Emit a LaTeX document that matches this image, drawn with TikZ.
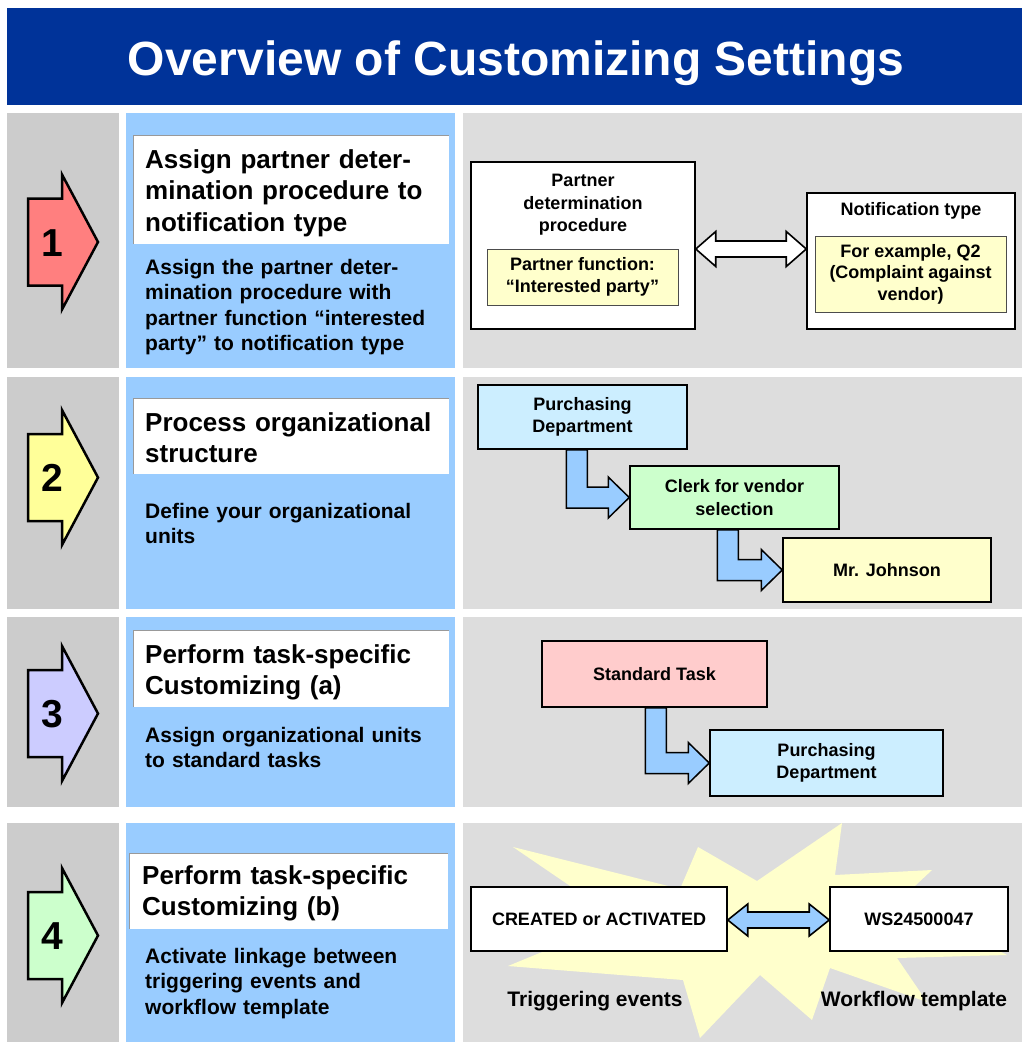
\documentclass[tikz,border=0pt]{standalone}
\usepackage{fontspec}
\setmainfont{Liberation Sans}
\usetikzlibrary{calc}
\definecolor{titleblue}{HTML}{003399}
\definecolor{numgray}{HTML}{CCCCCC}
\definecolor{colblue}{HTML}{99CCFF}
\definecolor{panelgray}{HTML}{DDDDDD}
\definecolor{aone}{HTML}{FF7F7F}
\definecolor{atwo}{HTML}{FFFF99}
\definecolor{athree}{HTML}{CCCCFF}
\definecolor{afour}{HTML}{CCFFCC}
\definecolor{ltyellow}{HTML}{FFFFCC}
\definecolor{ltblue}{HTML}{CCEEFF}
\definecolor{ltgreen}{HTML}{CCFFCC}
\definecolor{ltred}{HTML}{FFCCCC}
\definecolor{arrowblue}{HTML}{99CCFF}
\definecolor{edgegray}{HTML}{999999}

\newcommand{\numarrow}[4]{% center y, fill, name, number
  \draw[line width=2.5pt, line join=miter, fill=#2]
    (28,{#1-43.5}) -- (62,{#1-43.5}) -- (62,{#1-67.5}) -- (98,#1)
    -- (62,{#1+67.5}) -- (62,{#1+43.5}) -- (28,{#1+43.5}) -- cycle;
  \node[numtxt] (#3) at (52,{#1+14}) {#4};}
\newcommand{\bentarr}[3]{% from, to, shaft offset
  \draw[barrow] let \p1=(#1.south west), \p2=(#2.west) in
    (\x1+#3,\y1) -- (\x1+#3+21,\y1) -- (\x1+#3+21,\y2+10.5)
    -- (\x2-21,\y2+10.5) -- (\x2-21,\y2+20.5) -- (\x2,\y2)
    -- (\x2-21,\y2-20.5) -- (\x2-21,\y2-10.5) -- (\x1+#3,\y2-10.5) -- cycle;}
\newcommand{\dblarr}[6]{% A, B, y shift, shaft half, head half, fill
  \draw[line width=1.6pt, line join=miter, fill=#6]
    let \p1=($(#1.east)+(0,#3)$), \p2=(#2.west) in
    (\x1,\y1) -- (\x1+20,\y1+#5) -- (\x1+20,\y1+#4) -- (\x2-20,\y1+#4)
    -- (\x2-20,\y1+#5) -- (\x2,\y1) -- (\x2-20,\y1-#5) -- (\x2-20,\y1-#4)
    -- (\x1+20,\y1-#4) -- (\x1+20,\y1-#5) -- cycle;}

\begin{document}
\begin{tikzpicture}[x=1pt,y=-1pt,
  numtxt/.style={anchor=base, inner sep=0pt, font=\fontsize{39}{44}\selectfont\bfseries},
  tbox/.style={fill=white, inner sep=0pt},
  ttxt/.style={anchor=base west, inner sep=0pt, text width=305pt, align=left,
    font=\fontsize{26}{31.5}\selectfont\bfseries},
  dtxt/.style={anchor=base west, inner sep=0pt, text width=305pt, align=left,
    font=\fontsize{21}{25.5}\selectfont\bfseries},
  obox/.style={draw=black, line width=1.5pt, inner sep=0pt},
  ibox/.style={draw=black!70, line width=1pt, fill=ltyellow, inner sep=0pt},
  btxt/.style={inner sep=0pt, align=center, font=\fontsize{18}{22.5}\selectfont\bfseries},
  barrow/.style={draw=black, line width=1.5pt, line join=miter, fill=arrowblue},
  lbl/.style={anchor=base, inner sep=0pt, font=\fontsize{21}{25}\selectfont\bfseries}]
\useasboundingbox (0,0) rectangle (1022,1042);
\fill[white] (0,0) rectangle (1022,1042);
% title bar
\fill[titleblue] (7,8) rectangle (1022,105);
\node[anchor=base, inner sep=0pt, text=white, font=\fontsize{48}{58}\selectfont\bfseries] (title) at (516,75) {Overview of Customizing Settings};
% row backgrounds
\foreach \ya/\yb in {113/368, 377/609, 617/807, 823/1042}{
  \fill[numgray] (7,\ya) rectangle (119,\yb);
  \fill[colblue] (126,\ya) rectangle (455,\yb);
  \fill[panelgray] (463,\ya) rectangle (1022,\yb);
}
% number arrows
\numarrow{242}{aone}{n1}{1}
\numarrow{477.5}{atwo}{n2}{2}
\numarrow{713.5}{athree}{n3}{3}
\numarrow{935.5}{afour}{n4}{4}
% title boxes
\node[tbox, minimum width=315pt, minimum height=108pt] (tb1) at (291.5,190) {};
\node[tbox, minimum width=315pt, minimum height=75pt] (tb2) at (291.5,436.5) {};
\node[tbox, minimum width=315pt, minimum height=76pt] (tb3) at (291.5,669) {};
\node[tbox, minimum width=318pt, minimum height=75pt] (tb4) at (289,891.5) {};
\foreach \t in {tb1,tb2,tb3,tb4}{
  \draw[edgegray, line width=1.2pt] (\t.south west) -- (\t.north west) -- (\t.north east);
}
\node[ttxt] (tt1) at (145,168) {Assign partner deter-\\mination procedure to\\notification type};
\node[ttxt] (tt2) at (145,431) {Process organizational\\structure};
\node[ttxt] (tt3) at (145,663) {Perform task-specific\\Customizing (a)};
\node[ttxt] (tt4) at (142,884) {Perform task-specific\\Customizing (b)};
\node[dtxt] (dt1) at (145,274) {Assign the partner deter-\\mination procedure with\\partner function “interested\\party” to notification type};
\node[dtxt] (dt2) at (145,518) {Define your organizational\\units};
\node[dtxt] (dt3) at (145,742) {Assign organizational units\\to standard tasks};
\node[dtxt] (dt4) at (145,963) {Activate linkage between\\triggering events and\\workflow template};
% row 1 right
\node[obox, fill=white, minimum width=224pt, minimum height=167pt] (pdA) at (583,245.5) {};
\node[btxt] (pdAt) at (583,205) {Partner\\determination\\procedure};
\node[ibox, minimum width=191pt, minimum height=56pt, btxt] (pfA) at (582.5,277) {Partner function:\\“Interested party”};
\node[obox, fill=white, minimum width=208pt, minimum height=136pt] (ntB) at (911,261) {};
\node[btxt] (ntBt) at (911,211) {Notification type};
\node[ibox, minimum width=191pt, minimum height=76pt, btxt, font=\fontsize{18}{21.5}\selectfont\bfseries] (exB) at (910.5,274) {For example, Q2\\(Complaint against\\vendor)};
\dblarr{pdA}{ntB}{3.5}{8}{17.5}{white}
% row 2 right
\node[obox, fill=ltblue, minimum width=209pt, minimum height=64pt, btxt] (pd2) at (582.5,417) {Purchasing\\Department};
\node[obox, fill=ltgreen, minimum width=209pt, minimum height=63pt, btxt] (cv2) at (734.5,497.5) {Clerk for vendor\\selection};
\node[obox, fill=ltyellow, minimum width=208pt, minimum height=64pt, btxt] (mj2) at (887,570) {Mr. Johnson};
\bentarr{pd2}{cv2}{89}
\bentarr{cv2}{mj2}{88}
% row 3 right
\node[obox, fill=ltred, minimum width=225pt, minimum height=66pt, btxt] (st3) at (654.5,674) {Standard Task};
\node[obox, fill=ltblue, minimum width=233pt, minimum height=66pt, btxt] (pd3) at (826.5,763) {Purchasing\\Department};
\bentarr{st3}{pd3}{104}
% row 4 right
\fill[ltyellow] (513,847) -- (680,889) -- (698,847) -- (757,881) -- (842,823) -- (835,875)
  -- (932,870) -- (900,900) -- (1007,955) -- (897,958) -- (927,1002) -- (830,968)
  -- (812,1020) -- (760,975) -- (700,1038) -- (683,980) -- (508,966) -- (620,920) -- cycle;
\node[obox, fill=white, minimum width=256pt, minimum height=64pt, btxt] (ev4) at (599,919) {CREATED or ACTIVATED};
\node[obox, fill=white, minimum width=178pt, minimum height=64pt, btxt] (ws4) at (919,919) {WS24500047};
\dblarr{ev4}{ws4}{1}{8}{16}{arrowblue}
\node[lbl] (te4) at (595,1006) {Triggering events};
\node[lbl] (wt4) at (914,1006) {Workflow template};
\end{tikzpicture}
\end{document}
